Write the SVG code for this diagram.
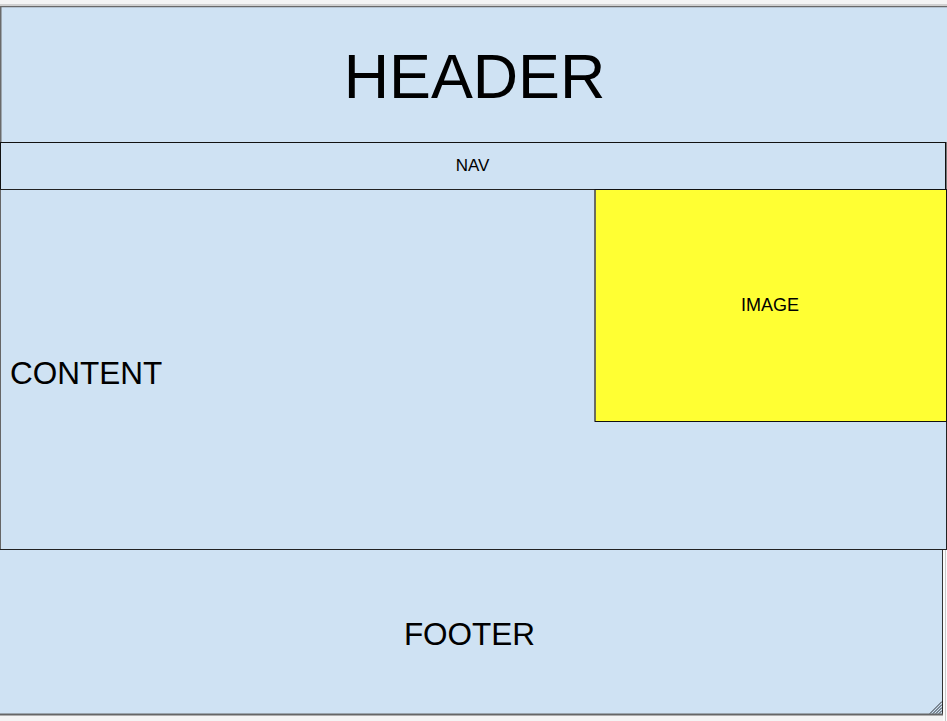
<svg xmlns="http://www.w3.org/2000/svg" width="947" height="721" viewBox="0 0 947 721">
<style>
.box{fill:#cfe2f3;}
.t{font-family:"Liberation Sans",Arial,sans-serif;fill:#000;}
</style>
<rect x="0" y="0" width="947" height="721" fill="#f4f4f4"/>
<line x1="0" y1="4.5" x2="947" y2="4.5" stroke="#d0d0d0" stroke-width="1"/>
<g id="header">
<rect class="box" x="0" y="6" width="947" height="136"/>
<line x1="0" y1="6.5" x2="947" y2="6.5" stroke="#6a6a6a" stroke-width="1.5"/>
<line x1="0.75" y1="6" x2="0.75" y2="142" stroke="#6a6a6a" stroke-width="1.5"/>
<text class="t" x="474.5" y="97.5" font-size="62.8" text-anchor="middle">HEADER</text>
</g>
<g id="nav">
<rect x="945" y="142" width="2" height="48" fill="#777"/>
<rect class="box" x="0.5" y="142.5" width="945" height="47" stroke="#111" stroke-width="1"/>
<text class="t" x="472.5" y="171" font-size="17" text-anchor="middle">NAV</text>
</g>
<g id="content">
<rect class="box" x="0.5" y="189.5" width="946" height="360" stroke="#222" stroke-width="1"/>
<line x1="0.5" y1="190" x2="0.5" y2="549" stroke="#666" stroke-width="1"/>
<text class="t" x="10" y="383.5" font-size="31.5">CONTENT</text>
</g>
<g id="image">
<rect x="595" y="189.5" width="351.5" height="232" fill="#ffff33" stroke="#111" stroke-width="1"/>
<line x1="595" y1="190" x2="595" y2="421" stroke="#666" stroke-width="1.5"/>
<text class="t" x="770" y="311" font-size="18" text-anchor="middle">IMAGE</text>
</g>
<g id="footer">
<rect x="943" y="550" width="4" height="171" fill="#fafafa"/>
<line x1="945.5" y1="550" x2="945.5" y2="721" stroke="#c8c8c8" stroke-width="1"/>
<rect class="box" x="0" y="550" width="943" height="164"/>
<line x1="942.5" y1="550" x2="942.5" y2="715" stroke="#333" stroke-width="1"/>
<line x1="0" y1="714.5" x2="943" y2="714.5" stroke="#666" stroke-width="2"/>
<g stroke="#000" stroke-width="0.8">
<line x1="930" y1="713.5" x2="942" y2="701.5"/>
<line x1="933" y1="713.5" x2="942" y2="704.5"/>
<line x1="936" y1="713.5" x2="942" y2="707.5"/>
<line x1="939" y1="713.5" x2="942" y2="710.5"/>
</g>
<text class="t" x="469.5" y="644.5" font-size="31.5" text-anchor="middle">FOOTER</text>
</g>
<g id="connectors"/>
</svg>
